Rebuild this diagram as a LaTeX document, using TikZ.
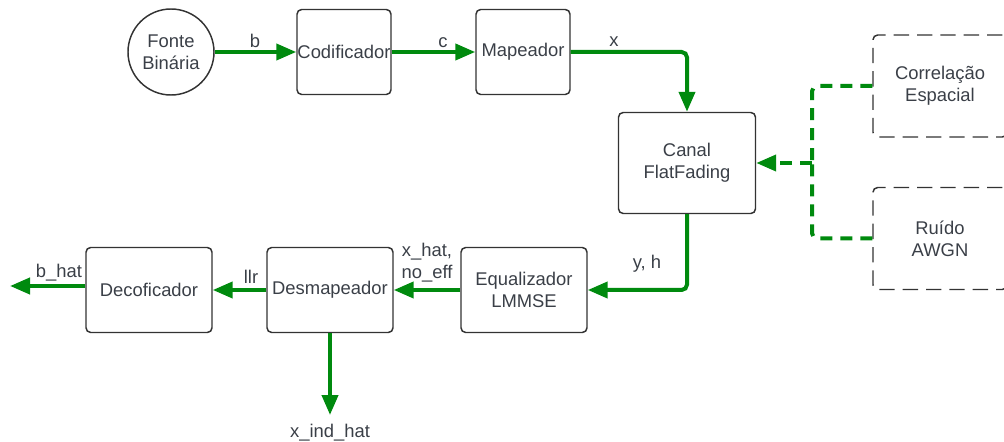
\documentclass[tikz,border=0pt]{standalone}
\usepackage{fontspec}
\setmainfont{Liberation Sans}
\usetikzlibrary{arrows.meta}
\definecolor{fluxo}{RGB}{0,138,14}
\definecolor{borda}{RGB}{51,51,51}
\definecolor{texto}{RGB}{58,63,71}

\begin{document}
\begin{tikzpicture}[
    x=0.75pt, y=-0.75pt,
    font=\fontsize{13.8}{16.5}\selectfont,
    bloco/.style=
        {draw=borda,line width=1.1pt,rounded corners=3.5pt,text=texto,align=center,
         minimum width=70.5pt,minimum height=63.75pt,inner sep=0pt},
    fonte/.style=
        {draw=borda,line width=1.1pt,circle,text=texto,align=center,
         minimum size=64.5pt,inner sep=0pt},
    externo/.style=
        {bloco,dash pattern=on 11.5pt off 6pt,minimum width=100.5pt,minimum height=76.5pt},
    seta/.style=
        {draw=fluxo,line width=3pt,rounded corners=4pt,-{Triangle[length=15pt,width=12pt]}},
    tracejada/.style=
        {seta,dash pattern=on 9pt off 6pt},
    rotulo/.style=
        {text=texto,inner sep=0pt,align=center}]
    \clip (0,0) rectangle (1004,442);
    \node [fonte] (fonte) at (171,52) {Fonte\\Binária};
    \node [bloco] (cod) at (344,52) {Codificador};
    \node [bloco] (map) at (523,52) {Mapeador};
    \node [bloco,minimum width=102.75pt,minimum height=75.75pt] (canal) at (687,163) {Canal\\FlatFading};
    \node [externo] (corr) at (940,86) {Correlação\\Espacial};
    \node [externo] (awgn) at (940,238.5) {Ruído\\AWGN};
    \node [bloco,minimum width=94.5pt] (equ) at (524,290) {Equalizador\\LMMSE};
    \node [bloco,minimum width=94.5pt] (desm) at (330,290) {Desmapeador};
    \node [bloco,minimum width=94.5pt] (dec) at (149,290) {Decoficador};
    \coordinate (bhat) at (10,286);
    \coordinate (xind) at (330,415);
    \coordinate (junta) at (812,163);
    \draw [seta] (fonte) -- (cod);
    \draw [seta] (cod) -- (map);
    \draw [seta] (map) -| (canal);
    \draw [seta] (canal) |- (equ);
    \draw [seta] (equ) -- (desm);
    \draw [seta] (desm) -- (dec);
    \draw [seta] ([yshift=3pt]dec.west) -- (bhat);
    \draw [seta] (desm) -- (xind);
    \draw [tracejada,-] (corr) -| (junta);
    \draw [tracejada,-] (awgn) -| (junta);
    \draw [tracejada] (junta) -- (canal);
    \node [rotulo,anchor=base] (lb) at (255,48) {b};
    \node [rotulo,anchor=base] (lc) at (443,48) {c};
    \node [rotulo,anchor=base] (lx) at (614,47) {x};
    \node [rotulo,anchor=base] (lyh) at (647,268) {y, h};
    \node [rotulo] (lxhat) at (427,263) {x\_hat,\\no\_eff};
    \node [rotulo,anchor=base] (lllr) at (251,283) {llr};
    \node [rotulo,anchor=base] (lbhat) at (59,277) {b\_hat};
    \node [rotulo,anchor=base] (lxind) at (330,437) {x\_ind\_hat};
\end{tikzpicture}
\end{document}
